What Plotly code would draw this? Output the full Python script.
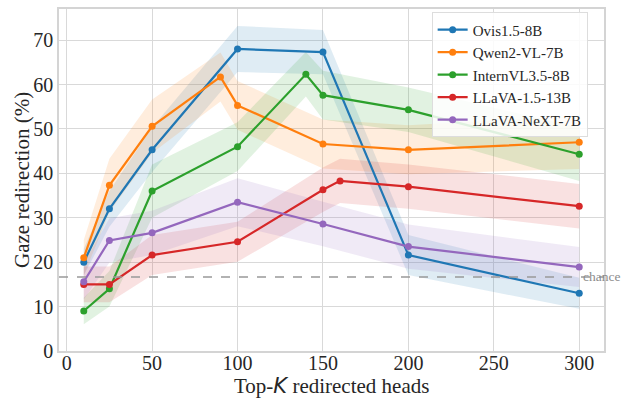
import plotly.graph_objects as go

names = ["Ovis1.5-8B", "Qwen2-VL-7B", "InternVL3.5-8B", "LLaVA-1.5-13B", "LLaVA-NeXT-7B"]
colors = ["#1f77b4", "#ff7f0e", "#2ca02c", "#d62728", "#9467bd"]
fills = ["rgba(31,119,180,0.14)", "rgba(255,127,14,0.14)", "rgba(44,160,44,0.14)",
         "rgba(214,39,40,0.14)", "rgba(148,103,189,0.14)"]

ovis_k = [10, 25, 50, 100, 150, 200, 300]
ovis_v = [20.0, 32.0, 45.3, 68.0, 67.3, 21.6, 13.0]
ovis_s = [3.0, 4.0, 5.0, 5.2, 5.0, 4.5, 3.5]

qwen_k = [10, 25, 50, 90, 100, 150, 200, 300]
qwen_v = [21.0, 37.3, 50.6, 61.7, 55.3, 46.6, 45.3, 47.0]
qwen_s = [4.0, 6.0, 6.0, 5.5, 5.5, 5.5, 5.5, 6.0]

intern_k = [10, 25, 50, 100, 140, 150, 200, 300]
intern_v = [9.0, 14.0, 36.0, 46.0, 62.3, 57.6, 54.3, 44.3]
intern_s = [3.0, 4.0, 6.0, 5.5, 5.0, 5.5, 5.0, 6.0]

llava_k = [10, 25, 50, 100, 150, 160, 200, 300]
llava_v = [15.0, 15.0, 21.6, 24.6, 36.3, 38.3, 37.0, 32.6]
llava_s = [4.0, 4.0, 4.5, 4.5, 5.0, 5.0, 5.0, 5.0]

next_k = [10, 25, 50, 100, 150, 200, 300]
next_v = [15.6, 24.9, 26.6, 33.5, 28.6, 23.5, 18.9]
next_s = [4.0, 5.0, 5.0, 5.4, 5.0, 5.0, 4.5]

chance = 16.67
x_ticks = [0, 50, 100, 150, 200, 250, 300]
y_ticks = [0, 10, 20, 30, 40, 50, 60, 70]

series = [(ovis_k, ovis_v, ovis_s), (qwen_k, qwen_v, qwen_s), (intern_k, intern_v, intern_s),
          (llava_k, llava_v, llava_s), (next_k, next_v, next_s)]

fig = go.Figure()
for (k, v, s), c, f, n in zip(series, colors, fills, names):
    upper = [a + b for a, b in zip(v, s)]
    lower = [a - b for a, b in zip(v, s)]
    fig.add_trace(go.Scatter(x=k + k[::-1], y=upper + lower[::-1], fill="toself",
                             fillcolor=f, line=dict(width=0), mode="lines",
                             hoverinfo="skip", showlegend=False))
for (k, v, s), c, n in zip(series, colors, names):
    fig.add_trace(go.Scatter(x=k, y=v, mode="lines+markers", name=n,
                             line=dict(color=c, width=2.2),
                             marker=dict(color=c, size=7)))

xr = [-4.5, 314.5]
fig.add_shape(type="line", xref="paper", yref="y", x0=0, x1=1, y0=chance, y1=chance,
              line=dict(color="#999999", width=1.4, dash="dash"))
fig.add_annotation(x=(301 - xr[0]) / (xr[1] - xr[0]), y=chance, xref="paper", yref="y",
                   text="chance", showarrow=False, xanchor="left", yanchor="middle",
                   font=dict(family="Liberation Serif", size=13.5, color="#8c8c8c"))
fig.add_annotation(x=0.5, y=-0.102, xref="paper", yref="paper",
                   text="Top-<span style=\"font-family:'DejaVu Sans'\"><i>K</i></span> redirected heads",
                   showarrow=False, xanchor="center", yanchor="middle",
                   font=dict(family="Liberation Serif", size=21, color="#262626"))
fig.add_annotation(x=-0.068, y=0.5, xref="paper", yref="paper", textangle=-90,
                   text="Gaze redirection (%)", showarrow=False,
                   xanchor="center", yanchor="middle",
                   font=dict(family="Liberation Serif", size=21, color="#262626"))

axis_common = dict(showgrid=True, gridcolor="#d9d9d9", gridwidth=1, showline=True,
                   linecolor="#d4d4d4", linewidth=1.5, mirror=True, zeroline=False,
                   ticks="", automargin=False,
                   tickfont=dict(family="Liberation Serif", size=20, color="#262626"))

fig.update_layout(
    width=629, height=400,
    margin=dict(l=59, r=25, t=9, b=49),
    paper_bgcolor="white", plot_bgcolor="white",
    font=dict(family="Liberation Serif", color="#262626"),
    xaxis=dict(range=xr, tickvals=x_ticks, ticklabelstandoff=-7, **axis_common),
    yaxis=dict(range=[0, 77], tickvals=y_ticks, **axis_common),
    legend=dict(x=0.97, y=0.99, xanchor="right", yanchor="top",
                bgcolor="rgba(255,255,255,0.85)", bordercolor="#dddddd", borderwidth=1,
                font=dict(family="Liberation Serif", size=15, color="#262626"),
                itemwidth=30, tracegroupgap=0),
)

fig.write_html("out.html", config={"displayModeBar": False},
               post_script="document.body.style.margin='0';")
